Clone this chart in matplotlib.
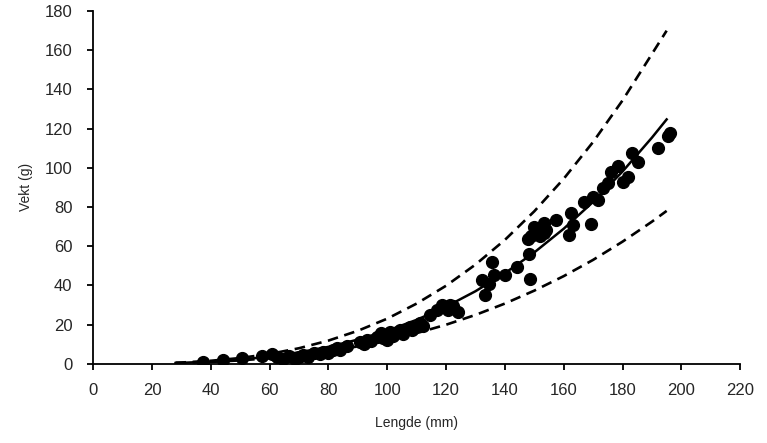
import matplotlib
matplotlib.use("Agg")
import matplotlib.pyplot as plt

plt.rcParams['font.family'] = ['Liberation Sans', 'DejaVu Sans']

# measured fish: length (mm), weight (g)
lengde = [37.5, 44, 50.5, 57.5, 60.7, 62.5, 64.5, 66.5, 68.5, 70, 71.5, 73, 75, 77,
          78.3, 80, 81.7, 83, 84, 86.3, 90.8, 92, 93.1, 94.5, 96.5, 98, 98.7, 99.8,
          101, 102, 104.4, 105.4, 107.8, 108.5, 111.2, 112, 114.5, 116.8, 118.5,
          120.8, 121.5, 122.5, 124.2,
          133.3, 132.2, 134.5, 135.6, 136.2, 140.2, 144.2, 148.2, 148.7, 148, 149,
          150, 151, 152, 153, 154, 153.3, 153.3, 157.3, 161.8, 162.4, 163, 167,
          169.2, 169.8, 171.5, 173.2, 175, 176, 178.3, 180, 181.8, 183.2, 185.2,
          192, 195.5, 196]
vekt = [0.8, 1.9, 2.8, 3.8, 4.8, 3.5, 2.6, 3.8, 2.4, 3.3, 4.6, 3.6, 5.3, 4.8,
        6.2, 5.6, 7.2, 7.9, 6.8, 9.2, 11.0, 10.2, 12.1, 11.4, 13.8, 15.6, 13.0, 12.2,
        16.4, 14.0, 17.2, 15.0, 18.9, 17.0, 20.7, 19.2, 24.9, 27.4, 30.0,
        27.4, 29.8, 29.5, 26.6,
        34.9, 42.6, 40.9, 52, 45.1, 45.1, 49.4, 56.2, 43.4, 63.5, 65,
        70, 66.5, 65, 70, 68, 71.6, 66.5, 73.3, 65.6, 77, 70.8, 82.7,
        71.3, 85, 83.6, 89.6, 92, 98, 101, 93, 95.5, 107.5, 103,
        110, 116, 117.8]

# fitted curve and limits, every 10 mm
kurve_l = [28, 30, 40, 50, 60, 70, 80, 90, 100, 110, 120, 130, 140, 150, 160, 170, 180, 190, 195]
kurve_w = [0.37, 0.45, 1.08, 2.1, 3.6, 5.8, 8.6, 12.3, 16.8, 22.4, 29.1, 37.0, 46.2,
           56.8, 68.9, 82.6, 98.1, 115.4, 124.7]
ovre_w = [0.5, 0.6, 1.5, 2.9, 5.0, 7.9, 11.8, 16.8, 23.0, 30.7, 39.8, 50.6, 63.2,
          77.8, 94.4, 113.2, 134.4, 158.1, 170.0]
nedre_w = [0.33, 0.40, 0.90, 1.69, 2.83, 4.37, 6.36, 8.85, 11.9, 15.6, 19.9, 24.9, 30.7,
           37.3, 44.7, 53.0, 62.3, 72.5, 78.0]

fig = plt.figure(figsize=(7.67, 4.43), dpi=100)
ax = fig.add_axes([0.1215, 0.179, 0.8435, 0.796])

ax.plot(lengde, vekt, 'o', color='black', ms=8.5, zorder=3)
ax.plot(kurve_l, kurve_w, '-', color='black', lw=1.8, zorder=4)
ax.plot(kurve_l, ovre_w, '--', color='black', lw=1.9, dashes=(4, 2.5))
ax.plot(kurve_l, nedre_w, '--', color='black', lw=1.9, dashes=(4, 2.5))

ax.set_xlim(0, 220)
ax.set_ylim(0, 180)
ax.set_xticks(range(0, 221, 20))
ax.set_yticks(range(0, 181, 20))

for s in ['top', 'right']:
    ax.spines[s].set_visible(False)
for s in ['left', 'bottom']:
    ax.spines[s].set_linewidth(1.3)

ax.tick_params(axis='both', direction='out', length=4, width=1.3,
               labelsize=12, labelcolor='#262626')
ax.tick_params(axis='x', pad=10)
ax.tick_params(axis='y', pad=11)

ax.set_xlabel("Lengde (mm)", fontsize=10, color='#262626', labelpad=13)
ax.set_ylabel("Vekt (g)", fontsize=10, color='#262626', labelpad=8)

fig.savefig("out.png", dpi=100)
